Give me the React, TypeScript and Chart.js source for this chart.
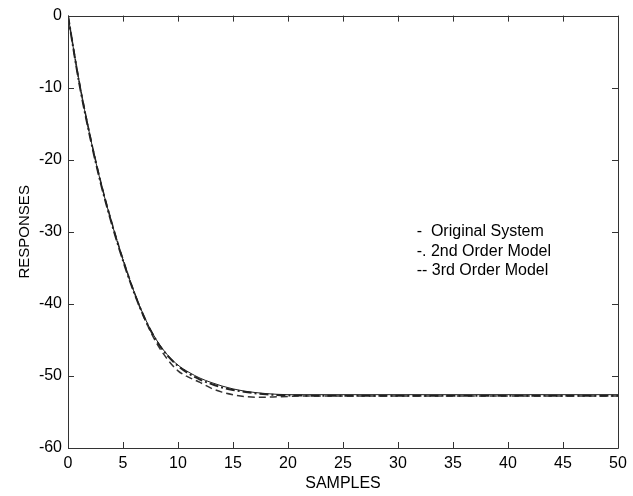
import React, { useEffect, useRef } from "react";
import { Chart, registerables } from "chart.js";

Chart.register(...registerables);

const samples: number[] = [
  0, 1, 2, 3, 4, 5, 6, 7, 8, 9, 10, 11, 12, 13, 14, 15, 16, 17, 18, 19, 20,
  21, 22, 23, 24, 25, 26, 27, 28, 29, 30, 31, 32, 33, 34, 35, 36, 37, 38, 39, 40,
  41, 42, 43, 44, 45, 46, 47, 48, 49, 50,
];

const originalSystem: number[] = [
  0, -9.1, -16.7, -23.3, -28.9, -33.9, -38.3, -42.0, -44.9, -47.0, -48.5,
  -49.5, -50.3, -50.9, -51.4, -51.8, -52.1, -52.3, -52.45, -52.55, -52.6,
  -52.6, -52.6, -52.6, -52.6, -52.6, -52.6, -52.6, -52.6, -52.6, -52.6,
  -52.6, -52.6, -52.6, -52.6, -52.6, -52.6, -52.6, -52.6, -52.6, -52.6,
  -52.6, -52.6, -52.6, -52.6, -52.6, -52.6, -52.6, -52.6, -52.6, -52.6,
];

const secondOrder: number[] = [
  0, -9.2, -16.8, -23.4, -29.0, -34.0, -38.4, -42.1, -45.0, -47.1, -48.6,
  -49.7, -50.5, -51.1, -51.6, -51.95, -52.2, -52.4, -52.55, -52.65, -52.7,
  -52.72, -52.75, -52.75, -52.75, -52.75, -52.75, -52.75, -52.75, -52.75, -52.75,
  -52.75, -52.75, -52.75, -52.75, -52.75, -52.75, -52.75, -52.75, -52.75, -52.75,
  -52.75, -52.75, -52.75, -52.75, -52.75, -52.75, -52.75, -52.75, -52.75, -52.75,
];

const thirdOrder: number[] = [
  0, -9.0, -16.6, -23.2, -28.8, -33.8, -38.3, -42.2, -45.3, -47.6, -49.3,
  -50.2, -50.9, -51.7, -52.25, -52.6, -52.85, -52.95, -52.95, -52.9, -52.85,
  -52.8, -52.8, -52.8, -52.8, -52.8, -52.8, -52.8, -52.8, -52.8, -52.8,
  -52.8, -52.8, -52.8, -52.8, -52.8, -52.8, -52.8, -52.8, -52.8, -52.8,
  -52.8, -52.8, -52.8, -52.8, -52.8, -52.8, -52.8, -52.8, -52.8, -52.8,
];

const legendLines: string[] = [
  "-  Original System",
  "-. 2nd Order Model",
  "-- 3rd Order Model",
];

const FONT = "'Liberation Sans', Arial, sans-serif";

const boxPlugin = {
  id: "matlabBox",
  afterDraw(chart: any) {
    const { ctx, chartArea, scales } = chart;
    const { left, right, top, bottom } = chartArea;
    ctx.save();
    ctx.strokeStyle = "#333";
    ctx.lineWidth = 1;
    ctx.beginPath();
    ctx.rect(Math.round(left) + 0.5, Math.round(top) + 0.5, Math.round(right - left), Math.round(bottom - top));
    ctx.stroke();
    const tl = 6;
    ctx.beginPath();
    scales.x.ticks.forEach((t: any) => {
      const px = Math.round(scales.x.getPixelForValue(t.value)) + 0.5;
      ctx.moveTo(px, bottom);
      ctx.lineTo(px, bottom - tl);
      ctx.moveTo(px, top);
      ctx.lineTo(px, top + tl);
    });
    scales.y.ticks.forEach((t: any) => {
      const py = Math.round(scales.y.getPixelForValue(t.value)) + 0.5;
      ctx.moveTo(left, py);
      ctx.lineTo(left + tl, py);
      ctx.moveTo(right, py);
      ctx.lineTo(right - tl, py);
    });
    ctx.stroke();

    ctx.fillStyle = "#000";
    ctx.font = `16px ${FONT}`;
    ctx.textBaseline = "middle";
    ctx.textAlign = "left";
    const lx = scales.x.getPixelForValue(31.7);
    const ly = scales.y.getPixelForValue(-30);
    legendLines.forEach((s, i) => {
      ctx.fillText(s, lx, ly + i * 19.5);
    });
    ctx.restore();
  },
};

export default function App() {
  const ref = useRef<HTMLCanvasElement | null>(null);
  useEffect(() => {
    if (!ref.current) return;
    const chart = new Chart(ref.current, {
      type: "line",
      data: {
        labels: samples,
        datasets: [
          {
            label: "Original System",
            data: samples.map((x, i) => ({ x, y: originalSystem[i] })),
            borderColor: "#222",
            borderWidth: 1,
            pointRadius: 0,
            cubicInterpolationMode: "monotone",
          },
          {
            label: "2nd Order Model",
            data: samples.map((x, i) => ({ x, y: secondOrder[i] })),
            borderColor: "#222",
            borderWidth: 2,
            borderDash: [9, 3, 2, 3],
            pointRadius: 0,
            cubicInterpolationMode: "monotone",
          },
          {
            label: "3rd Order Model",
            data: samples.map((x, i) => ({ x, y: thirdOrder[i] })),
            borderColor: "#333",
            borderWidth: 1.5,
            borderDash: [7, 4],
            pointRadius: 0,
            cubicInterpolationMode: "monotone",
          },
        ],
      },
      options: {
        animation: false,
        responsive: false,
        maintainAspectRatio: false,
        layout: { padding: { top: 12, right: 15, left: 0, bottom: 0 } },
        plugins: { legend: { display: false }, tooltip: { enabled: false } },
        scales: {
          x: {
            type: "linear",
            min: 0,
            max: 50,
            grid: { display: false, drawTicks: false },
            border: { display: false },
            ticks: {
              stepSize: 5,
              padding: 6,
              color: "#000",
              font: { family: FONT, size: 16 },
              maxRotation: 0,
            },
            title: {
              display: true,
              text: "SAMPLES",
              color: "#000",
              font: { family: FONT, size: 16 },
              padding: { top: 0, bottom: 3 },
            },
            afterFit(scale: any) {
              scale.height = 48;
            },
          },
          y: {
            type: "linear",
            min: -60,
            max: 0,
            grid: { display: false, drawTicks: false },
            border: { display: false },
            ticks: {
              stepSize: 10,
              padding: 6,
              color: "#000",
              font: { family: FONT, size: 16 },
            },
            title: {
              display: true,
              text: "RESPONSES",
              color: "#000",
              font: { family: FONT, size: 15 },
              padding: { top: 16, bottom: 0 },
            },
            afterFit(scale: any) {
              scale.width = 68;
            },
          },
        },
      },
      plugins: [boxPlugin],
    } as any);
    return () => chart.destroy();
  }, []);
  return (
    <div style={{ position: "fixed", left: 0, top: 0, width: 633, height: 496, background: "#fff" }}>
      <canvas ref={ref} width={633} height={496} style={{ width: 633, height: 496 }} />
    </div>
  );
}
